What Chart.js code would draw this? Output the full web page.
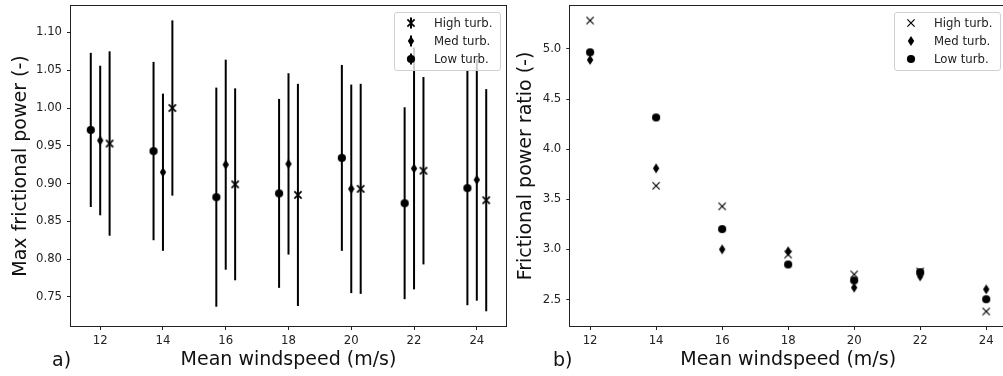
<!DOCTYPE html>
<html>
<head>
<meta charset="utf-8">
<script src="https://cdn.jsdelivr.net/npm/chart.js@4.4.1/dist/chart.umd.min.js"></script>
<style>
  html, body { margin: 0; padding: 0; background: #fff; overflow: hidden; }
  #wrap { position: relative; width: 1003px; height: 376px; overflow: hidden; }
  .panel { position: absolute; top: -2px; height: 378px; }
  #panelA { left: 0; width: 514px; }
  #panelB { left: 512px; width: 502px; }
</style>
</head>
<body>
<div id="wrap">
  <div class="panel" id="panelA"><canvas id="chartA"></canvas></div>
  <div class="panel" id="panelB"><canvas id="chartB"></canvas></div>
</div>
<script>
var windspeeds = [12, 14, 16, 18, 20, 22, 24];
var groupShift = 0.3;

// a) max frictional power, mean and std per turbulence class
var lowPower  = [0.971, 0.943, 0.882, 0.887, 0.934, 0.874, 0.894];
var lowStd    = [0.102, 0.118, 0.145, 0.125, 0.123, 0.127, 0.155];
var medPower  = [0.957, 0.915, 0.925, 0.926, 0.893, 0.920, 0.905];
var medStd    = [0.099, 0.104, 0.139, 0.120, 0.138, 0.160, 0.160];
var highPower = [0.953, 1.000, 0.899, 0.885, 0.893, 0.917, 0.878];
var highStd   = [0.122, 0.116, 0.127, 0.147, 0.139, 0.124, 0.147];

// b) frictional power ratio
var highRatio = [5.284, 3.635, 3.430, 2.949, 2.751, 2.780, 2.381];
var medRatio  = [4.891, 3.809, 3.001, 2.982, 2.619, 2.731, 2.602];
var lowRatio  = [4.967, 4.317, 3.203, 2.850, 2.691, 2.773, 2.503];

var speedTicks = [12, 14, 16, 18, 20, 22, 24];
var powerTicks = [0.75, 0.80, 0.85, 0.90, 0.95, 1.00, 1.05, 1.10];
var ratioTicks = [2.5, 3.0, 3.5, 4.0, 4.5, 5.0];

var legendNames = ['High turb.', 'Med turb.', 'Low turb.'];
var legendKinds = ['x', 'd', 'o'];

Chart.defaults.font.family = 'DejaVu Sans';
Chart.defaults.color = '#222';

function drawMarker(ctx, kind, x, y, crossWidth) {
  ctx.save();
  ctx.fillStyle = '#000';
  ctx.strokeStyle = '#000';
  if (kind === 'o') {
    ctx.beginPath();
    ctx.arc(x, y, 4.1, 0, Math.PI * 2);
    ctx.fill();
  } else if (kind === 'd') {
    ctx.beginPath();
    ctx.moveTo(x, y - 5);
    ctx.lineTo(x + 3.2, y);
    ctx.lineTo(x, y + 5);
    ctx.lineTo(x - 3.2, y);
    ctx.closePath();
    ctx.fill();
  } else {
    ctx.lineWidth = crossWidth || 1.2;
    ctx.beginPath();
    ctx.moveTo(x - 3.6, y - 3.6); ctx.lineTo(x + 3.6, y + 3.6);
    ctx.moveTo(x - 3.6, y + 3.6); ctx.lineTo(x + 3.6, y - 3.6);
    ctx.stroke();
  }
  ctx.restore();
}

function markerImage(kind, crossWidth) {
  var c = document.createElement('canvas');
  c.width = 14; c.height = 14;
  drawMarker(c.getContext('2d'), kind, 7, 7, crossWidth);
  return c;
}

var markers = { x: markerImage('x', 1.2), X: markerImage('x', 1.7), d: markerImage('d'), o: markerImage('o') };

function pairs(xs, ys, dx) {
  return xs.map(function (v, i) { return { x: v + dx, y: ys[i] }; });
}

function scatterSet(label, kind, data, errs) {
  return {
    label: label,
    data: data,
    errs: errs,
    pointStyle: markers[kind],
    pointRadius: 7,
    showLine: false
  };
}

// vertical error bars under the markers
var errorBars = {
  id: 'errorBars',
  beforeDatasetsDraw: function (chart) {
    var ctx = chart.ctx, ys = chart.scales.y;
    ctx.save();
    ctx.strokeStyle = '#000';
    ctx.lineWidth = 2;
    chart.data.datasets.forEach(function (ds, di) {
      if (!ds.errs) return;
      chart.getDatasetMeta(di).data.forEach(function (pt, i) {
        var v = ds.data[i].y, e = ds.errs[i];
        ctx.beginPath();
        ctx.moveTo(pt.x, ys.getPixelForValue(v - e));
        ctx.lineTo(pt.x, ys.getPixelForValue(v + e));
        ctx.stroke();
      });
    });
    ctx.restore();
  }
};

// closed frame around the plot area
var frame = {
  id: 'frame',
  afterDatasetsDraw: function (chart) {
    var a = chart.chartArea, ctx = chart.ctx;
    ctx.save();
    ctx.strokeStyle = '#222';
    ctx.lineWidth = 1;
    ctx.strokeRect(Math.round(a.left) - 0.5, Math.round(a.top) - 0.5,
      Math.round(a.right - a.left) + 1, Math.round(a.bottom - a.top) + 1);
    ctx.restore();
  }
};

// legend box in the upper right corner, plus panel letter
var boxLegend = {
  id: 'boxLegend',
  afterDraw: function (chart, args, opts) {
    var a = chart.chartArea, ctx = chart.ctx;
    var w = 106, h = 58;
    var left = a.right - 6 - w, top = a.top + 6;
    ctx.save();
    ctx.beginPath();
    ctx.roundRect(left + 0.5, top + 0.5, w, h, 2.5);
    ctx.fillStyle = 'rgba(255,255,255,0.8)';
    ctx.fill();
    ctx.strokeStyle = '#d0d0d0';
    ctx.lineWidth = 1;
    ctx.stroke();
    ctx.font = '11.7px "DejaVu Sans"';
    ctx.textBaseline = 'middle';
    ctx.fillStyle = '#222';
    legendNames.forEach(function (name, i) {
      var y = top + 11 + i * 18, mx = left + 17;
      if (opts.bars) {
        ctx.strokeStyle = '#000';
        ctx.lineWidth = 2;
        ctx.beginPath();
        ctx.moveTo(mx, y - 5.5);
        ctx.lineTo(mx, y + 5.5);
        ctx.stroke();
      }
      drawMarker(ctx, legendKinds[i], mx, y, opts.bars ? 1.7 : 1.2);
      ctx.fillText(name, left + 40, y + 0.5);
    });
    ctx.font = '19px "DejaVu Sans"';
    ctx.textBaseline = 'alphabetic';
    ctx.fillStyle = '#111';
    ctx.fillText(opts.letter, opts.letterX, 368);
    ctx.restore();
  }
};

function axes(xMin, xMax, yMin, yMax, yTicks, digits, yWidth, yTitle, yTitlePad) {
  return {
    x: {
      type: 'linear', min: xMin, max: xMax,
      afterBuildTicks: function (s) { s.ticks = speedTicks.map(function (v) { return { value: v }; }); },
      afterFit: function (s) { s.height = 50; s.paddingLeft = 0; s.paddingRight = 0; },
      border: { display: false },
      grid: { drawOnChartArea: false, drawTicks: true, tickLength: 4, color: '#222' },
      ticks: { font: { size: 11.7 }, padding: 4, maxRotation: 0 },
      title: { display: true, text: 'Mean windspeed (m/s)', font: { size: 19 }, color: '#111', padding: { top: 0, bottom: 4.5 } }
    },
    y: {
      type: 'linear', min: yMin, max: yMax,
      afterBuildTicks: function (s) { s.ticks = yTicks.map(function (v) { return { value: v }; }); },
      afterFit: function (s) { s.width = yWidth; s.paddingTop = 0; s.paddingBottom = 0; },
      border: { display: false },
      grid: { drawOnChartArea: false, drawTicks: true, tickLength: 4, color: '#222' },
      ticks: { font: { size: 11.7 }, padding: 5, callback: function (v) { return Number(v).toFixed(digits); } },
      title: { display: true, text: yTitle, font: { size: 19 }, color: '#111', padding: { top: yTitlePad, bottom: 0 } }
    }
  };
}

new Chart(document.getElementById('chartA'), {
  type: 'scatter',
  data: {
    datasets: [
      scatterSet('Low turb.', 'o', pairs(windspeeds, lowPower, -groupShift), lowStd),
      scatterSet('Med turb.', 'd', pairs(windspeeds, medPower, 0), medStd),
      scatterSet('High turb.', 'X', pairs(windspeeds, highPower, groupShift), highStd)
    ]
  },
  options: {
    responsive: true, maintainAspectRatio: false, animation: false, events: [],
    layout: { padding: { top: 1, right: 1, left: 0, bottom: 0 } },
    plugins: {
      legend: { display: false }, tooltip: { enabled: false },
      boxLegend: { bars: true, letter: 'a)', letterX: 52 }
    },
    scales: axes(11.07, 24.93, 0.7115, 1.135, powerTicks, 2, 71, 'Max frictional power (-)', 10)
  },
  plugins: [errorBars, frame, boxLegend]
});

new Chart(document.getElementById('chartB'), {
  type: 'scatter',
  data: {
    datasets: [
      scatterSet('High turb.', 'x', pairs(windspeeds, highRatio, 0)),
      scatterSet('Med turb.', 'd', pairs(windspeeds, medRatio, 0)),
      scatterSet('Low turb.', 'o', pairs(windspeeds, lowRatio, 0))
    ]
  },
  options: {
    responsive: true, maintainAspectRatio: false, animation: false, events: [],
    layout: { padding: { top: 1, right: 1, left: 0, bottom: 0 } },
    plugins: {
      legend: { display: false }, tooltip: { enabled: false },
      boxLegend: { bars: false, letter: 'b)', letterX: 41 }
    },
    scales: axes(11.4, 24.6, 2.236, 5.429, ratioTicks, 1, 58.3, 'Frictional power ratio (-)', 3)
  },
  plugins: [frame, boxLegend]
});
</script>
</body>
</html>
